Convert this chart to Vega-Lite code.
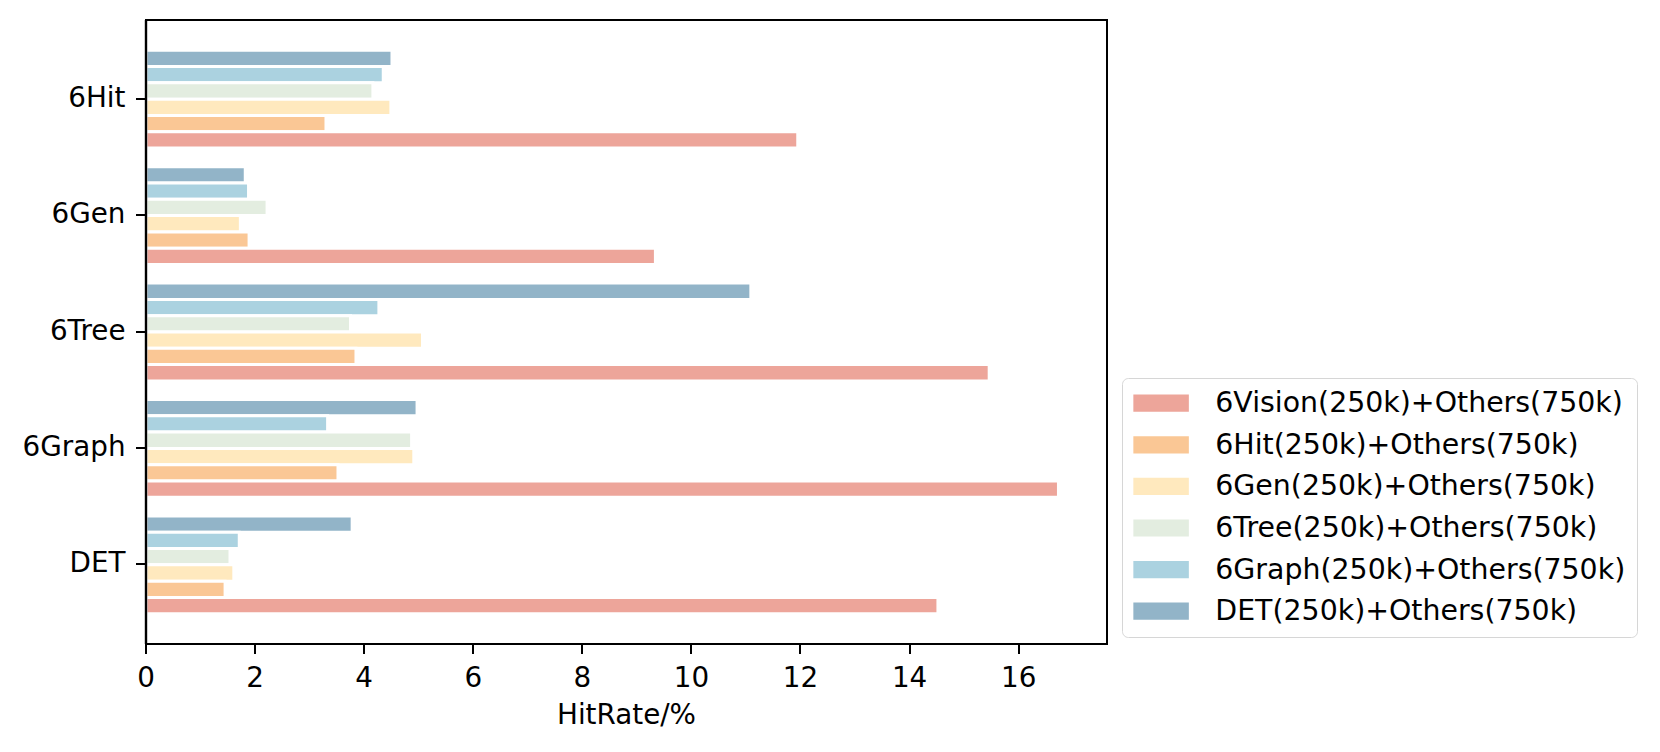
{
  "$schema": "https://vega.github.io/schema/vega-lite/v6.json",
  "width": 961,
  "height": 624,
  "autosize": {"type": "none"},
  "padding": {"left": 146, "top": 20, "right": 553, "bottom": 108},
  "background": "white",
  "config": {
    "font": "DejaVu Sans",
    "view": {"stroke": "black", "strokeWidth": 2},
    "axis": {
      "zindex": 1,
      "translate": 0,
      "domainColor": "black",
      "domainWidth": 2,
      "tickColor": "black",
      "tickWidth": 2,
      "tickSize": 10,
      "labelFont": "DejaVu Sans",
      "labelFontSize": 27.8,
      "labelColor": "black",
      "labelPadding": 10.5,
      "grid": false,
      "titleFont": "DejaVu Sans",
      "titleFontSize": 27.8,
      "titleColor": "black",
      "titleFontWeight": "normal"
    }
  },
  "data": {
    "values": [
      {"method": "6Hit", "series": "DET(250k)+Others(750k)", "hitrate": 4.51},
      {"method": "6Hit", "series": "6Graph(250k)+Others(750k)", "hitrate": 4.35},
      {"method": "6Hit", "series": "6Tree(250k)+Others(750k)", "hitrate": 4.16},
      {"method": "6Hit", "series": "6Gen(250k)+Others(750k)", "hitrate": 4.49},
      {"method": "6Hit", "series": "6Hit(250k)+Others(750k)", "hitrate": 3.30},
      {"method": "6Hit", "series": "6Vision(250k)+Others(750k)", "hitrate": 11.95},
      {"method": "6Gen", "series": "DET(250k)+Others(750k)", "hitrate": 1.82},
      {"method": "6Gen", "series": "6Graph(250k)+Others(750k)", "hitrate": 1.88},
      {"method": "6Gen", "series": "6Tree(250k)+Others(750k)", "hitrate": 2.22},
      {"method": "6Gen", "series": "6Gen(250k)+Others(750k)", "hitrate": 1.73},
      {"method": "6Gen", "series": "6Hit(250k)+Others(750k)", "hitrate": 1.89},
      {"method": "6Gen", "series": "6Vision(250k)+Others(750k)", "hitrate": 9.34},
      {"method": "6Tree", "series": "DET(250k)+Others(750k)", "hitrate": 11.09},
      {"method": "6Tree", "series": "6Graph(250k)+Others(750k)", "hitrate": 4.27},
      {"method": "6Tree", "series": "6Tree(250k)+Others(750k)", "hitrate": 3.75},
      {"method": "6Tree", "series": "6Gen(250k)+Others(750k)", "hitrate": 5.07},
      {"method": "6Tree", "series": "6Hit(250k)+Others(750k)", "hitrate": 3.85},
      {"method": "6Tree", "series": "6Vision(250k)+Others(750k)", "hitrate": 15.46},
      {"method": "6Graph", "series": "DET(250k)+Others(750k)", "hitrate": 4.97},
      {"method": "6Graph", "series": "6Graph(250k)+Others(750k)", "hitrate": 3.33},
      {"method": "6Graph", "series": "6Tree(250k)+Others(750k)", "hitrate": 4.87},
      {"method": "6Graph", "series": "6Gen(250k)+Others(750k)", "hitrate": 4.91},
      {"method": "6Graph", "series": "6Hit(250k)+Others(750k)", "hitrate": 3.52},
      {"method": "6Graph", "series": "6Vision(250k)+Others(750k)", "hitrate": 16.73},
      {"method": "DET", "series": "DET(250k)+Others(750k)", "hitrate": 3.78},
      {"method": "DET", "series": "6Graph(250k)+Others(750k)", "hitrate": 1.71},
      {"method": "DET", "series": "6Tree(250k)+Others(750k)", "hitrate": 1.54},
      {"method": "DET", "series": "6Gen(250k)+Others(750k)", "hitrate": 1.61},
      {"method": "DET", "series": "6Hit(250k)+Others(750k)", "hitrate": 1.45},
      {"method": "DET", "series": "6Vision(250k)+Others(750k)", "hitrate": 14.52}
    ]
  },
  "mark": {"type": "bar", "stroke": "white", "strokeWidth": 3},
  "encoding": {
    "y": {
      "field": "method",
      "type": "nominal",
      "sort": ["6Hit", "6Gen", "6Tree", "6Graph", "DET"],
      "scale": {"paddingInner": 0.16, "paddingOuter": 0.26},
      "axis": {"title": null, "zindex": 2, "domainWidth": 2.4}
    },
    "x": {
      "field": "hitrate",
      "type": "quantitative",
      "scale": {"domain": [0, 17.62], "nice": false, "zero": true},
      "axis": {
        "zindex": 2,
        "values": [0, 2, 4, 6, 8, 10, 12, 14, 16],
        "title": "HitRate/%",
        "titleBaseline": "top",
        "titleY": 58,
        "labelFlush": false,
        "labelOverlap": false
      }
    },
    "yOffset": {
      "field": "series",
      "type": "nominal",
      "sort": ["DET(250k)+Others(750k)", "6Graph(250k)+Others(750k)", "6Tree(250k)+Others(750k)", "6Gen(250k)+Others(750k)", "6Hit(250k)+Others(750k)", "6Vision(250k)+Others(750k)"],
      "scale": {"paddingInner": 0, "paddingOuter": 0}
    },
    "color": {
      "field": "series",
      "type": "nominal",
      "scale": {
        "domain": ["6Vision(250k)+Others(750k)", "6Hit(250k)+Others(750k)", "6Gen(250k)+Others(750k)", "6Tree(250k)+Others(750k)", "6Graph(250k)+Others(750k)", "DET(250k)+Others(750k)"],
        "range": ["#eda59a", "#fac795", "#ffe9be", "#e3ede0", "#abd2e0", "#92b4c8"]
      },
      "legend": {
        "title": null,
        "orient": "none",
        "legendX": 976,
        "legendY": 358,
        "symbolType": "M-2,-0.62L2,-0.62L2,0.62L-2,0.62Z",
        "symbolSize": 770,
        "symbolOffset": 13.9,
        "symbolStrokeWidth": 0,
        "symbolOpacity": 1,
        "labelFont": "DejaVu Sans",
        "labelFontSize": 28.4,
        "labelColor": "black",
        "labelOffset": 40,
        "labelLimit": 1000,
        "rowPadding": 12.6,
        "padding": 11,
        "strokeColor": "#d6d6d6",
        "cornerRadius": 6,
        "fillColor": "white",
        "encode": {"legend": {"update": {"strokeWidth": {"value": 2.2}}}}
      }
    }
  }
}
